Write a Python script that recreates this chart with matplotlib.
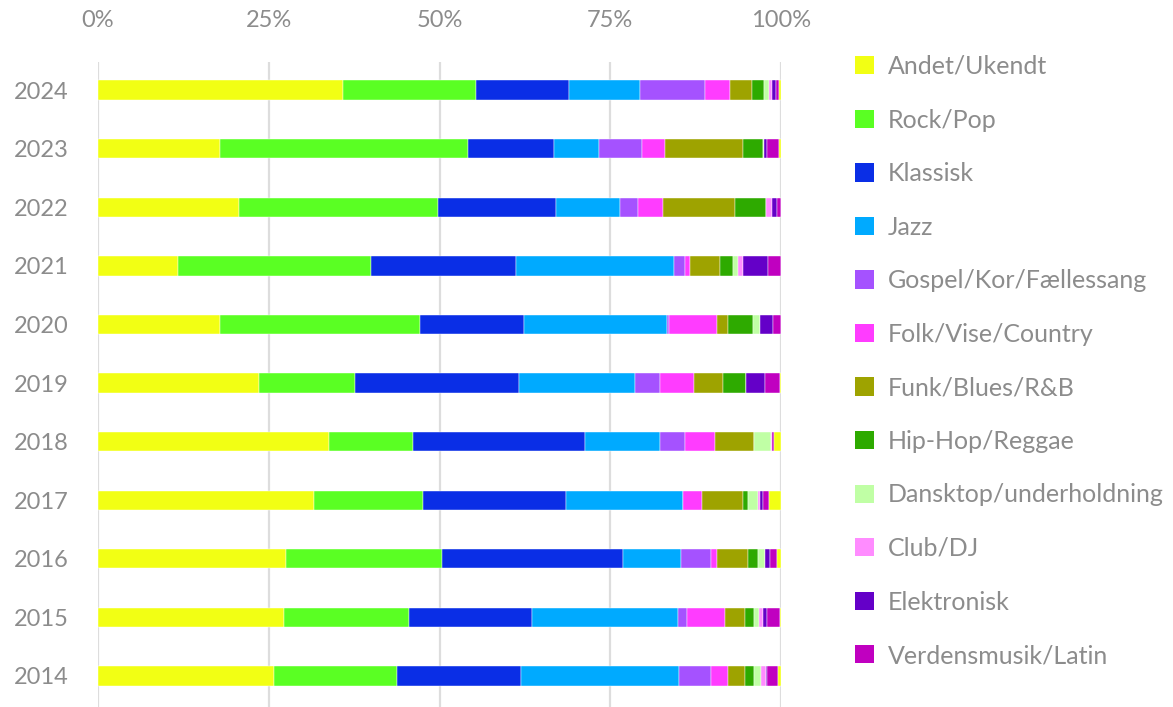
import matplotlib
matplotlib.use("Agg")
import matplotlib.pyplot as plt
from matplotlib.patches import Patch
import numpy as np

years = ["2024", "2023", "2022", "2021", "2020", "2019", "2018", "2017", "2016", "2015", "2014"]
categories = ["Andet/Ukendt", "Rock/Pop", "Klassisk", "Jazz", "Gospel/Kor/Fællessang",
              "Folk/Vise/Country", "Funk/Blues/R&B", "Hip-Hop/Reggae",
              "Dansktop/underholdning", "Club/DJ", "Elektronisk", "Verdensmusik/Latin"]

andet = [35.9, 17.8, 20.6, 11.7, 17.8, 23.5, 33.8, 31.6, 27.5, 27.2, 25.8]
rock = [19.5, 36.3, 29.2, 28.3, 29.3, 14.1, 12.3, 16.0, 22.8, 18.3, 18.0]
klassisk = [13.5, 12.7, 17.3, 21.2, 15.2, 24.1, 25.2, 20.9, 26.6, 18.0, 18.2]
jazz = [10.4, 6.6, 9.3, 23.1, 21.0, 16.9, 11.0, 17.1, 8.4, 21.4, 23.0]
gospel = [9.6, 6.3, 2.7, 1.6, 0.3, 3.7, 3.6, 0.0, 4.4, 1.3, 4.8]
folk = [3.7, 3.3, 3.6, 0.8, 7.0, 4.9, 4.4, 2.9, 1.0, 5.6, 2.4]
funk = [3.1, 11.4, 10.6, 4.4, 1.6, 4.3, 5.8, 5.9, 4.4, 2.9, 2.6]
hiphop = [1.8, 2.9, 4.5, 1.8, 3.7, 3.4, 0.0, 0.8, 1.6, 1.3, 1.3]
dansktop = [0.8, 0.2, 0.0, 0.8, 1.0, 0.0, 2.4, 1.4, 0.9, 0.8, 0.9]
club = [0.4, 0.0, 0.9, 0.8, 0.0, 0.0, 0.2, 0.3, 0.1, 0.6, 0.8]
elektronisk = [0.5, 0.4, 0.7, 3.6, 1.9, 2.7, 0.0, 0.5, 0.7, 0.5, 0.1]
verdens = [0.5, 1.8, 0.6, 1.9, 1.2, 2.2, 0.3, 0.8, 1.0, 2.0, 1.6]
rest = [0.3, 0.3, 0.0, 0.0, 0.0, 0.2, 1.0, 1.8, 0.6, 0.1, 0.5]

xticks = [0, 25, 50, 75, 100]
xtick_labels = ["0%", "25%", "50%", "75%", "100%"]

colors = ["#f2ff14", "#5aff23", "#0a2ee6", "#00aaff", "#a552ff", "#ff3cff",
          "#9ea300", "#2eaa00", "#c0ffa5", "#ff8cff", "#6400c8", "#c000c0"]
rest_color = "#f2ff14"

series = [andet, rock, klassisk, jazz, gospel, folk, funk, hiphop,
          dansktop, club, elektronisk, verdens]

plt.rcParams['font.family'] = ['Lato', 'DejaVu Sans']
text_color = "#8c8c8c"

fig = plt.figure(figsize=(11.73, 7.07), dpi=100)
ax = fig.add_axes([98 / 1173, 0.0, (781 - 98) / 1173, 1 - 62 / 707])

y = np.arange(len(years))
left = np.zeros(len(years))
for vals, col in zip(series + [rest], colors + [rest_color]):
    v = np.array(vals)
    ax.barh(y, v, left=left, height=0.33, color=col, edgecolor="white",
            linewidth=0.3, zorder=3)
    left += v

ax.set_xlim(0, 100)
ax.set_ylim(len(years) - 0.47, -0.48)
ax.set_yticks(y)
ax.set_yticklabels(years)
ax.set_xticks(xticks)
ax.set_xticklabels(xtick_labels)
ax.xaxis.tick_top()
ax.tick_params(axis="x", length=0, pad=22, labelsize=17, labelcolor=text_color)
ax.tick_params(axis="y", length=0, pad=21, labelsize=17, labelcolor=text_color)
for s in ax.spines.values():
    s.set_visible(False)
ax.grid(axis="x", color="#dddddd", linewidth=1.6, zorder=0)
ax.set_axisbelow(True)

handles = [Patch(facecolor=c, edgecolor="none") for c in colors]
leg = fig.legend(handles, categories, loc="upper left",
                 bbox_to_anchor=(855 / 1173, 1 - 55 / 707), frameon=False,
                 fontsize=18, handlelength=0.75, handleheight=0.75,
                 handletextpad=0.55, labelspacing=1.222, borderaxespad=0,
                 borderpad=0)
for t in leg.get_texts():
    t.set_color(text_color)

fig.savefig("out.png", dpi=100)
